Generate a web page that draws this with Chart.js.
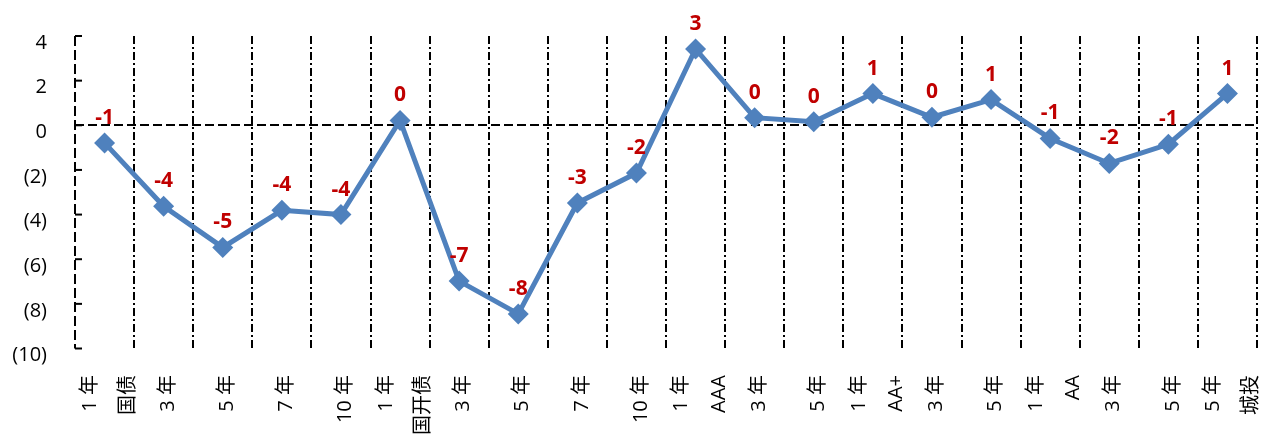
<!DOCTYPE html>
<html>
<head>
<meta charset="utf-8">
<script src="https://cdn.jsdelivr.net/npm/chart.js@4/dist/chart.umd.min.js"></script>
<style>
  body { margin: 0; background: #fff; }
  #chart { display: block; }
</style>
</head>
<body>
<canvas id="chart" width="1275" height="437"></canvas>
<script>
const categories = ['1 年', '3 年', '5 年', '7 年', '10 年', '1 年', '3 年', '5 年', '7 年', '10 年',
    '1 年', '3 年', '5 年', '1 年', '3 年', '5 年', '1 年', '3 年', '5 年', '5 年'];
const groupNames = ['国债', '国开债', 'AAA', 'AA+', 'AA', '城投'];
const groupStarts = [0, 5, 10, 13, 16, 19];
const values = [-0.79, -3.63, -5.47, -3.81, -4.0, 0.22, -6.98, -8.45, -3.48, -2.14,
    3.42, 0.34, 0.16, 1.42, 0.36, 1.15, -0.59, -1.71, -0.85, 1.42];
const yMin = -10;
const yMax = 4;
const yStep = 2;

const FONT = '"Open Sans", "Noto Sans CJK SC", sans-serif';
const BLUE = '#4F81BD';
const RED = '#C00000';

function fmtY(v) {
    return v < 0 ? '(' + Math.abs(v) + ')' : String(v);
}

// axis line, inward ticks, tick labels, category labels and value labels
const decorations = {
    id: 'decorations',
    afterDraw(chart) {
        const ctx = chart.ctx;
        const x = chart.scales.x;
        const y = chart.scales.y;
        const area = chart.chartArea;
        ctx.save();

        // dashed y axis
        ctx.strokeStyle = '#000';
        ctx.lineWidth = 2;
        ctx.setLineDash([10, 4]);
        ctx.beginPath();
        ctx.moveTo(area.left, area.top);
        ctx.lineTo(area.left, area.bottom);
        ctx.stroke();
        ctx.setLineDash([]);

        ctx.fillStyle = '#000';
        ctx.font = '20px ' + FONT;
        ctx.textAlign = 'right';
        ctx.textBaseline = 'middle';
        y.ticks.forEach(t => {
            const py = y.getPixelForValue(t.value);
            ctx.beginPath();
            ctx.moveTo(area.left, py);
            ctx.lineTo(area.left + 7, py);
            ctx.stroke();
            ctx.fillText(fmtY(t.value), 47, py + 7);
        });

        // category labels, rotated
        const half = (x.getPixelForValue(1) - x.getPixelForValue(0)) / 2;
        ctx.font = '20px ' + FONT;
        ctx.textAlign = 'right';
        ctx.textBaseline = 'middle';
        categories.forEach((c, i) => {
            const first = groupStarts.includes(i);
            const px = x.getPixelForValue(i) + (first ? -14 : 4.5);
            ctx.save();
            ctx.translate(px, 375);
            ctx.rotate(-Math.PI / 2);
            ctx.fillText(c, 0, 0);
            ctx.restore();
        });
        groupNames.forEach((g, k) => {
            const px = x.getPixelForValue(groupStarts[k]) + half - 6;
            ctx.save();
            ctx.translate(px, 375);
            ctx.rotate(-Math.PI / 2);
            ctx.fillText(g, 0, 0);
            ctx.restore();
        });

        // value labels
        const meta = chart.getDatasetMeta(0);
        ctx.fillStyle = RED;
        ctx.font = 'bold 21px ' + FONT;
        ctx.textAlign = 'center';
        meta.data.forEach((pt, i) => {
            let v = Math.round(values[i]);
            if (v === 0) v = 0;
            ctx.fillText(String(v), pt.x, pt.y - 25);
        });
        ctx.restore();
    }
};

new Chart(document.getElementById('chart'), {
    type: 'line',
    data: {
        labels: categories,
        datasets: [{
            data: values,
            borderColor: BLUE,
            backgroundColor: BLUE,
            borderWidth: 5,
            pointStyle: 'rectRot',
            pointRadius: 10.5,
            pointBorderWidth: 0,
            pointBackgroundColor: BLUE,
            tension: 0,
            clip: false
        }]
    },
    options: {
        responsive: false,
        animation: false,
        layout: { padding: { left: 0, top: 36, right: 18, bottom: 0 } },
        plugins: {
            legend: { display: false },
            tooltip: { enabled: false }
        },
        scales: {
            x: {
                offset: true,
                ticks: { display: false },
                grid: {
                    offset: true,
                    drawTicks: false,
                    lineWidth: 2,
                    color: c => c.index === 0 ? 'rgba(0,0,0,0)' : '#000'
                },
                border: { display: false, dash: [8, 3, 2, 3] },
                afterFit: s => { s.height = 88.5; }
            },
            y: {
                min: yMin,
                max: yMax,
                ticks: { stepSize: yStep, display: false },
                grid: {
                    drawTicks: false,
                    lineWidth: 2,
                    color: c => (c.tick && c.tick.value === 0) ? '#000' : 'rgba(0,0,0,0)'
                },
                border: { display: false, dash: [9, 4] },
                afterFit: s => { s.width = 75; }
            }
        }
    },
    plugins: [decorations]
});
</script>
</body>
</html>
